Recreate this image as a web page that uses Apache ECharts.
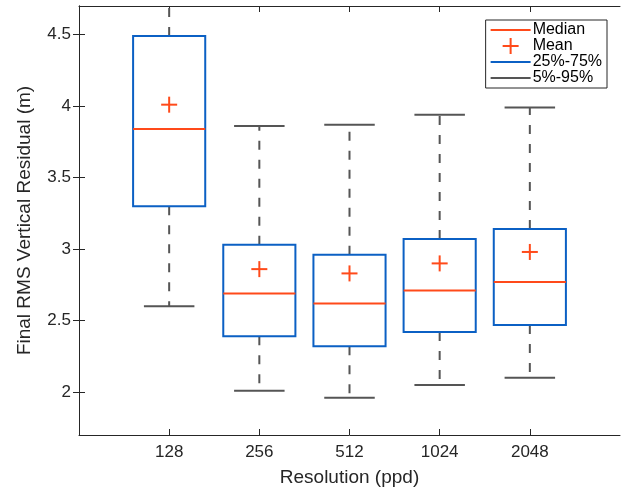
<!DOCTYPE html>
<html>
<head>
<meta charset="utf-8">
<script src="https://cdn.jsdelivr.net/npm/echarts@6/dist/echarts.min.js"></script>
<style>
  html, body { margin: 0; padding: 0; background: #fff; }
  #chart { width: 625px; height: 492px; }
</style>
</head>
<body>
<div id="chart"></div>
<script>
  // values
  var categories = ['128', '256', '512', '1024', '2048'];
  var whiskerLow = [2.60, 2.01, 1.96, 2.05, 2.10];
  var q1 = [3.30, 2.39, 2.32, 2.42, 2.47];
  var medians = [3.84, 2.69, 2.62, 2.71, 2.77];
  var q3 = [4.49, 3.03, 2.96, 3.07, 3.14];
  var whiskerHigh = [5.20, 3.86, 3.87, 3.94, 3.99];
  var means = [4.01, 2.86, 2.83, 2.90, 2.98];
  var yTicks = [2, 2.5, 3, 3.5, 4, 4.5];
  var xTicks = [1, 2, 3, 4, 5];

  var FONT = '"Liberation Sans", Arial, Helvetica, sans-serif';
  var AXIS = '#262626';
  var RED = '#ff4a1a';
  var BLUE = '#0b60c4';
  var GRAY = '#555555';

  var boxData = categories.map(function (c, i) {
    return [i + 1, whiskerLow[i], q1[i], medians[i], q3[i], whiskerHigh[i], means[i]];
  });

  function renderBox(params, api) {
    var x = api.value(0);
    var pLow = api.coord([x, api.value(1)]);
    var pQ1 = api.coord([x, api.value(2)]);
    var pMed = api.coord([x, api.value(3)]);
    var pQ3 = api.coord([x, api.value(4)]);
    var pHigh = api.coord([x, api.value(5)]);
    var pMean = api.coord([x, api.value(6)]);
    var cx = pMed[0];
    var boxW = api.size([0.8, 0])[0];
    var capW = api.size([0.56, 0])[0];
    var h = 8;
    var dashStyle = { stroke: GRAY, lineWidth: 2, lineDash: [9, 10] };
    var capStyle = { stroke: GRAY, lineWidth: 2 };
    return {
      type: 'group',
      children: [
        { type: 'line', shape: { x1: cx, y1: pQ3[1], x2: cx, y2: pHigh[1] }, style: dashStyle },
        { type: 'line', shape: { x1: cx, y1: pQ1[1], x2: cx, y2: pLow[1] }, style: dashStyle },
        { type: 'line', shape: { x1: cx - capW / 2, y1: pHigh[1], x2: cx + capW / 2, y2: pHigh[1] }, style: capStyle },
        { type: 'line', shape: { x1: cx - capW / 2, y1: pLow[1], x2: cx + capW / 2, y2: pLow[1] }, style: capStyle },
        { type: 'rect', shape: { x: cx - boxW / 2, y: pQ3[1], width: boxW, height: pQ1[1] - pQ3[1] },
          style: { fill: 'none', stroke: BLUE, lineWidth: 2 } },
        { type: 'line', shape: { x1: cx - boxW / 2, y1: pMed[1], x2: cx + boxW / 2, y2: pMed[1] },
          style: { stroke: RED, lineWidth: 2 } },
        { type: 'line', shape: { x1: cx - h, y1: pMean[1], x2: cx + h, y2: pMean[1] },
          style: { stroke: RED, lineWidth: 2 } },
        { type: 'line', shape: { x1: cx, y1: pMean[1] - h, x2: cx, y2: pMean[1] + h },
          style: { stroke: RED, lineWidth: 2 } }
      ]
    };
  }

  var chart = echarts.init(document.getElementById('chart'), null, { renderer: 'canvas' });

  var lineIcon = 'path://M0,0h40v2h-40z';
  var plusIcon = 'path://M7,0h2v16h-2zM0,7h16v2h-16z';

  var option = {
    backgroundColor: '#fff',
    animation: false,
    textStyle: { fontFamily: FONT },
    grid: { left: 79, right: 5, top: 6, bottom: 57 },
    legend: {
      orient: 'vertical',
      right: 18,
      top: 20,
      itemWidth: 40,
      itemHeight: 16,
      itemGap: 0,
      padding: [2, 5, 2, 5],
      borderColor: AXIS,
      borderWidth: 1,
      backgroundColor: '#fff',
      selectedMode: false,
      textStyle: { fontFamily: FONT, fontSize: 16, color: '#000', lineHeight: 16, padding: [0, 0, 0, -3] },
      data: [
        { name: 'Median', icon: lineIcon },
        { name: 'Mean', icon: plusIcon },
        { name: '25%-75%', icon: lineIcon },
        { name: '5%-95%', icon: lineIcon }
      ]
    },
    xAxis: [{
      type: 'value',
      min: 0,
      max: 6,
      interval: 1,
      name: 'Resolution (ppd)',
      nameLocation: 'middle',
      nameGap: 33,
      nameTextStyle: { fontFamily: FONT, fontSize: 19, color: AXIS },
      axisLine: { lineStyle: { color: AXIS, width: 1 } },
      axisTick: { inside: true, length: 6, lineStyle: { color: AXIS }, customValues: xTicks },
      axisLabel: {
        fontFamily: FONT, fontSize: 17, color: AXIS, margin: 9,
        customValues: xTicks,
        formatter: function (v) { return categories[v - 1] || ''; }
      },
      splitLine: { show: false }
    }, {
      type: 'value',
      position: 'top',
      min: 0,
      max: 6,
      interval: 1,
      axisLine: { show: true, lineStyle: { color: AXIS, width: 1 } },
      axisTick: { inside: true, length: 6, lineStyle: { color: AXIS }, customValues: xTicks },
      axisLabel: { show: false },
      splitLine: { show: false }
    }],
    yAxis: [{
      type: 'value',
      min: 1.7,
      max: 4.7,
      name: 'Final RMS Vertical Residual (m)',
      nameLocation: 'middle',
      nameGap: 45,
      nameTextStyle: { fontFamily: FONT, fontSize: 19, color: AXIS },
      axisLine: { show: true, lineStyle: { color: AXIS, width: 1 } },
      axisTick: { show: true, inside: true, length: 6, lineStyle: { color: AXIS }, customValues: yTicks },
      axisLabel: { fontFamily: FONT, fontSize: 17, color: AXIS, margin: 8, customValues: yTicks },
      splitLine: { show: false }
    }, {
      type: 'value',
      position: 'right',
      min: 1.7,
      max: 4.7,
      axisLine: { show: true, lineStyle: { color: AXIS, width: 1 } },
      axisTick: { show: true, inside: true, length: 6, lineStyle: { color: AXIS }, customValues: yTicks },
      axisLabel: { show: false, customValues: yTicks },
      splitLine: { show: false }
    }],
    series: [{
      type: 'custom',
      name: 'boxes',
      clip: true,
      renderItem: renderBox,
      encode: { x: 0, y: [1, 2, 3, 4, 5, 6] },
      data: boxData,
      silent: true
    },
    { name: 'Median', type: 'line', data: [], itemStyle: { color: RED }, lineStyle: { color: RED } },
    { name: 'Mean', type: 'line', data: [], itemStyle: { color: RED }, lineStyle: { color: RED } },
    { name: '25%-75%', type: 'line', data: [], itemStyle: { color: BLUE }, lineStyle: { color: BLUE } },
    { name: '5%-95%', type: 'line', data: [], itemStyle: { color: GRAY }, lineStyle: { color: GRAY } }]
  };

  chart.setOption(option);
</script>
</body>
</html>
